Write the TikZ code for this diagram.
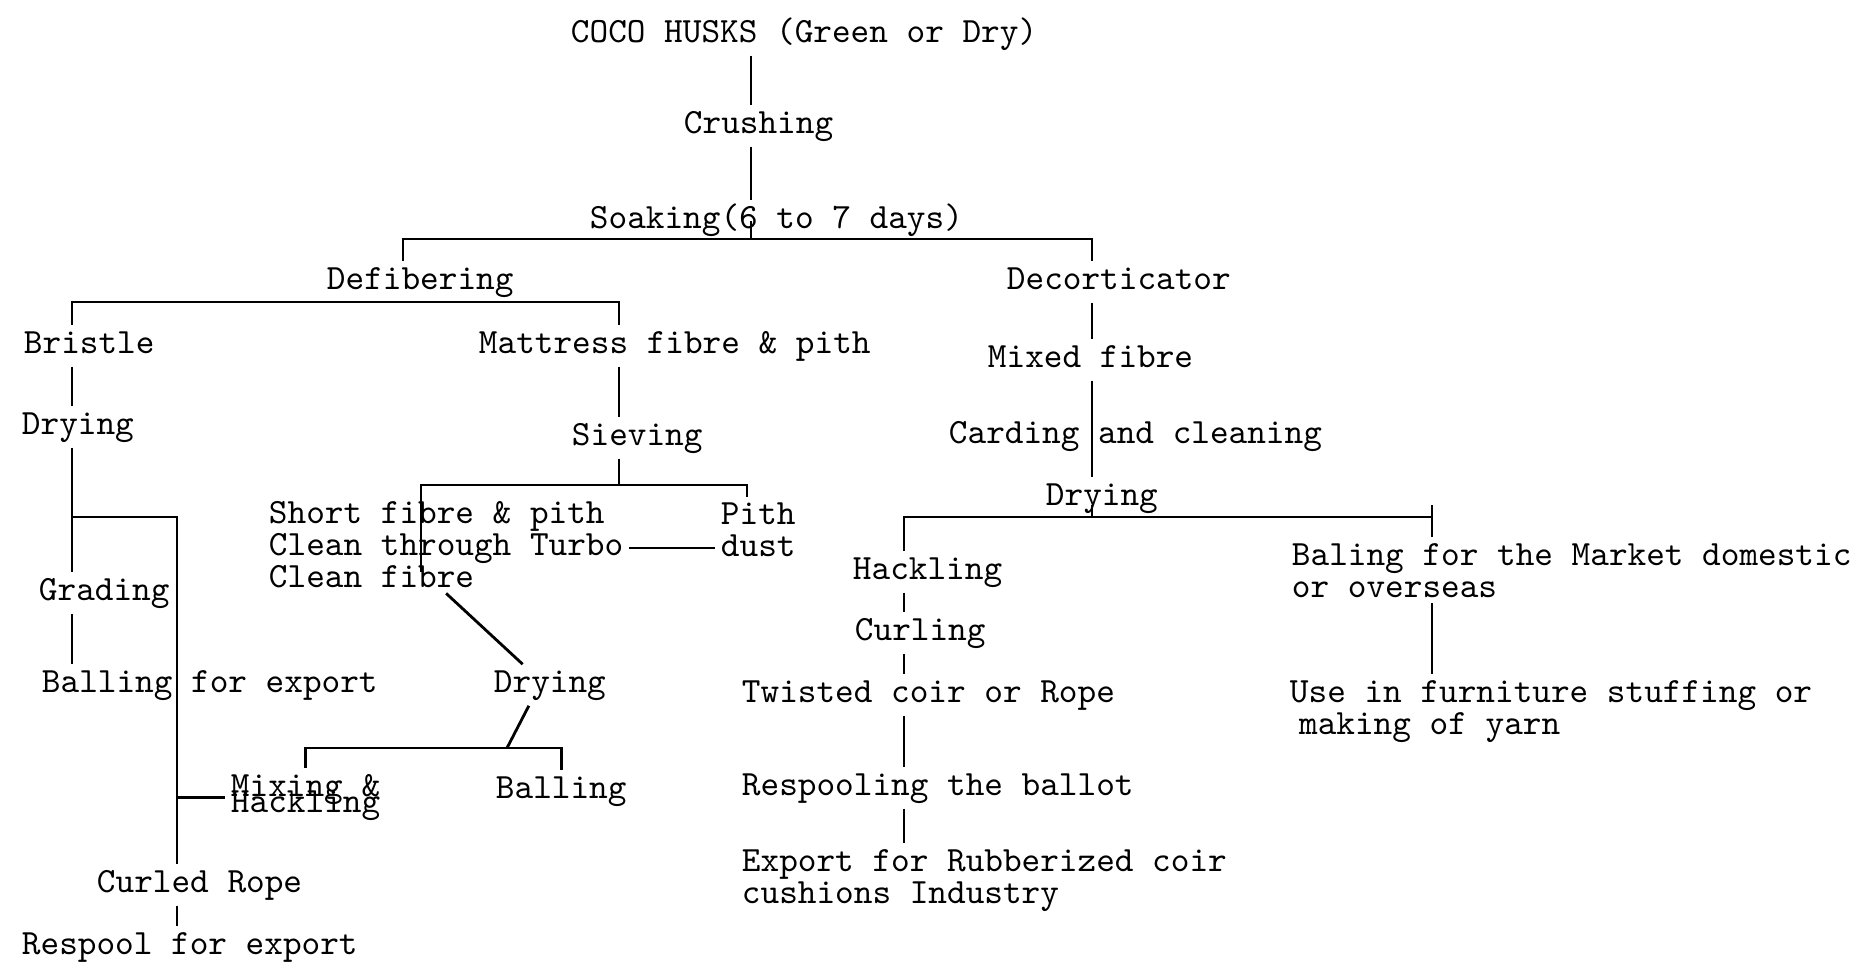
\documentclass[tikz,border=0pt]{standalone}
\usepackage{fontspec}
\usetikzlibrary{calc}
\newcommand\stagefont{\ttfamily\fontsize{10.1pt}{9pt}\selectfont}
\begin{document}
\begin{tikzpicture}[
x=0.01cm, y=-0.01cm,
stage/.style={anchor=base west, inner sep=1.5pt, font=\stagefont, text height=6.2pt, text depth=2.2pt},
stagelines/.style={anchor=base west, inner sep=1.5pt, font=\stagefont, align=left},
link/.style={line width=0.8pt}
]
\useasboundingbox (0,0) rectangle (1876,966);

\coordinate (colMain) at (751,0);
\coordinate (colDefib) at (403,0);
\coordinate (colDec) at (1092,0);
\coordinate (colLeft) at (72,0);
\coordinate (colRope) at (177,0);
\coordinate (colMat) at (619,0);
\coordinate (colShort) at (421,0);
\coordinate (colPith) at (747,0);
\coordinate (colHack) at (904,0);
\coordinate (colBale) at (1432,0);
\coordinate (rowSoak) at (0,239);
\coordinate (rowDef) at (0,302);
\coordinate (rowDry) at (0,517);
\coordinate (rowSieve) at (0,485);
\coordinate (rowTurbo) at (0,548);
\coordinate (rowFibre) at (0,572);
\coordinate (ballFork) at (507,748);

\node (husks) [stage] at (565,42) {COCO HUSKS (Green or Dry)};
\node (crush) [stage] at (678,133) {Crushing};
\node (soak) [stage] at (584,228) {Soaking(6 to 7 days)};
\node (defib) [stage] at (321,289) {Defibering};
\node (decort) [stage] at (1001,289) {Decorticator};
\node (bristle) [stage] at (18,353) {Bristle};
\node (mattress) [stage] at (473,353) {Mattress fibre \& pith};
\node (dry1) [stage] at (16,434) {Drying};
\node (grading) [stage] at (33,600) {Grading};
\node (ballexp) [stage] at (36,692) {Balling for export};
\node (mixing) [stagelines] at (225,812) {Mixing \&\\[-4.5pt]Hackling};
\node (curled) [stage] at (91,892) {Curled Rope};
\node (respool) [stage] at (16,954) {Respool for export};
\node (sieving) [stage] at (566,445) {Sieving};
\node (short) [stagelines] at (263,587) {Short fibre \& pith\\Clean through Turbo\\Clean fibre};
\node (pith) [stagelines] at (715,556) {Pith\\dust};
\node (dry2) [stage] at (488,692) {Drying};
\node (balling) [stage] at (490,798) {Balling};
\node (mixed) [stage] at (982,367) {Mixed fibre};
\node (carding) [stage] at (943,443) {Carding and cleaning};
\node (dry3) [stage] at (1040,505) {Drying};
\node (hackling) [stage] at (847,579) {Hackling};
\node (curling) [stage] at (849,640) {Curling};
\node (twisted) [stage] at (736,702) {Twisted coir or Rope};
\node (respooling) [stage] at (736,795) {Respooling the ballot};
\node (exportr) [stagelines] at (736,903) {Export for Rubberized coir\\cushions Industry};
\node (baling) [stagelines] at (1286,597) {Baling for the Market domestic\\or overseas};
\node (use) [stagelines] at (1284,734) {Use in furniture stuffing or\\\hspace*{2.6pt}making of yarn};

\draw [link] (husks.south -| colMain) -- (crush.north -| colMain);
\draw [link] (crush.south -| colMain) -- (soak.north -| colMain);
\draw [link] (soak.center -| colMain) -- (colMain |- rowSoak);
\draw [link] (defib.north -| colDefib) |- (colDec |- rowSoak) -- (decort.north -| colDec);
\draw [link] (bristle.north -| colLeft) |- (colMat |- rowDef) -- (mattress.north -| colMat);
\draw [link] (bristle.south -| colLeft) -- (dry1.north -| colLeft);
\draw [link] (dry1.south -| colLeft) -- (grading.north -| colLeft);
\draw [link] (grading.south -| colLeft) -- (ballexp.north -| colLeft);
\draw [link] (colLeft |- rowDry) -| (curled.north -| colRope);
\draw [link] (mixing.west -| colRope) -- (mixing.west);
\draw [link] (curled.south -| colRope) -- (respool.north -| colRope);
\draw [link] (mattress.south -| colMat) -- (sieving.north -| colMat);
\draw [link] (sieving.south -| colMat) -- (colMat |- rowSieve);
\draw [link] (colShort |- rowFibre) |- (colPith |- rowSieve) -- (pith.north -| colPith);
\draw [link] (short.east |- rowTurbo) -- (pith.west |- rowTurbo);
\draw [link] (short.south) -- ($(dry2.north west)!.28!(dry2.north east)$);
\draw [link] ($(dry2.south west)!.33!(dry2.south east)$) -- (ballFork);
\draw [link] (mixing.north) |- (balling.north |- ballFork) -- (balling.north);
\draw [link] (decort.south -| colDec) -- (mixed.north -| colDec);
\draw [link] (mixed.south -| colDec) -- (dry3.north -| colDec);
\draw [link] (dry3.base -| colDec) -- (colDec |- rowDry);
\draw [link] (hackling.north -| colHack) |- (colBale |- rowDry);
\draw [link] (dry3.base -| colBale) -- (baling.north -| colBale);
\draw [link] (hackling.south -| colHack) -- (curling.north -| colHack);
\draw [link] (curling.south -| colHack) -- (twisted.north -| colHack);
\draw [link] (twisted.south -| colHack) -- (respooling.north -| colHack);
\draw [link] (respooling.south -| colHack) -- (exportr.north -| colHack);
\draw [link] (baling.south -| colBale) -- (use.north -| colBale);
\end{tikzpicture}
\end{document}
